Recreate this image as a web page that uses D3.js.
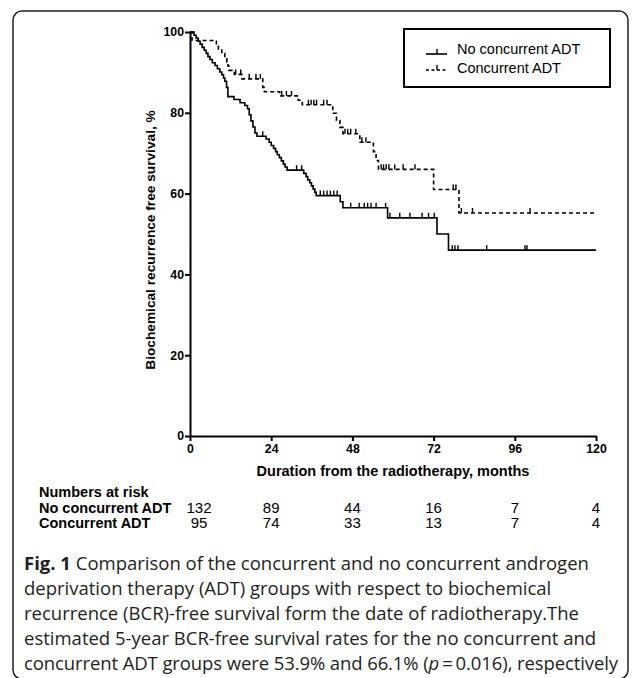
<!DOCTYPE html>
<html>
<head>
<meta charset="utf-8">
<script src="https://cdn.jsdelivr.net/npm/d3@7/dist/d3.min.js"></script>
<style>
  html, body { margin: 0; padding: 0; background: #fff; }
  svg { display: block; }
  .cap { font-family: "Open Sans", "Noto Sans", sans-serif; font-size: 18.5px; fill: #231f20; }
</style>
</head>
<body>
<script>
// ---------- data ----------
const groups = ["No concurrent ADT", "Concurrent ADT"];
const xTicks = [0, 24, 48, 72, 96, 120];
const yTicks = [0, 20, 40, 60, 80, 100];

// step points [month, survival %] after each drop
const noAdtSteps = [[0,100],[1.2,99.2],[1.8,98.5],[2.4,97.7],[3.0,97.0],[3.6,96.2],[4.2,95.5],[4.8,94.7],
  [5.3,93.9],[5.9,93.2],[6.6,92.4],[7.4,91.7],[8.1,90.9],[8.8,90.1],[9.4,89.4],[9.9,88.6],[10.3,87.8],
  [10.8,86.3],[11.2,84.0],[13.0,83.3],[14.8,82.5],[16.2,81.8],[17.0,81.0],[17.5,79.5],[18.0,78.0],
  [18.6,76.5],[19.2,75.0],[19.8,74.2],[22.5,73.5],[23.4,72.7],[24.0,71.9],[24.7,71.2],[25.3,70.4],
  [25.8,69.6],[26.4,68.9],[27.0,68.1],[27.6,67.3],[28.1,66.6],[28.7,65.8],[33.6,65.0],[34.3,64.2],
  [34.8,63.4],[35.4,62.7],[35.9,61.9],[36.4,61.1],[36.9,60.3],[37.3,59.5],[44.4,58.0],[45.2,56.5],
  [58.4,54.0],[73.0,50.0],[76.4,46.0]];
const noAdtCensored = [21.5,31.5,33.0,38.5,39.5,40.5,41.5,42.5,43.5,47.5,50.0,51.5,52.5,53.5,55.0,57.8,
  59.1,62.0,65.0,68.6,70.5,72.2,77.5,78.3,79.2,87.7,99.0,99.6];

const adtSteps = [[0,100],[0.6,97.9],[7.8,96.8],[8.4,95.8],[9.4,94.7],[10.3,93.7],[10.9,92.6],[11.2,91.6],
  [11.5,90.5],[13.1,89.5],[15.3,88.4],[21.5,86.3],[22.0,85.2],[26.5,84.2],[32.0,83.1],[33.2,82.0],
  [42.2,79.9],[43.3,78.1],[44.3,76.4],[45.2,74.8],[50.2,72.7],[54.2,70.4],[55.0,68.2],[55.7,66.0],
  [72.0,61.0],[79.5,55.2]];
const adtCensored = [13.5,15.0,17.5,19.5,20.8,27.1,28.5,30.0,35.0,35.8,36.6,37.4,39.5,40.5,45.8,46.6,
  47.5,49.0,50.8,52.0,56.5,57.2,58.0,58.8,60.5,63.0,66.5,77.8,78.6,80.2,83.5,100.5];

const riskNoAdt = [132, 89, 44, 16, 7, 4];
const riskAdt = [95, 74, 33, 13, 7, 4];

const yTitle = "Biochemical recurrence free survival, %";
const xTitle = "Duration from the radiotherapy, months";
const riskTitle = "Numbers at risk";
const captionBold = "Fig. 1";
const captionLines = [
  " Comparison of the concurrent and no concurrent androgen",
  "deprivation therapy (ADT) groups with respect to biochemical",
  "recurrence (BCR)-free survival form the date of radiotherapy.The",
  "estimated 5-year BCR-free survival rates for the no concurrent and",
  "concurrent ADT groups were 53.9% and 66.1% (",
];

// ---------- drawing ----------
const W = 634, H = 678;
const svg = d3.select("body").append("svg").attr("width", W).attr("height", H);

// frame
svg.append("rect").attr("x", 13).attr("y", 11).attr("width", 615).attr("height", 668)
  .attr("rx", 9).attr("fill", "none").attr("stroke", "#231f20").attr("stroke-width", 1.5);

const x = d3.scaleLinear().domain([0, 120]).range([190, 596]);
const y = d3.scaleLinear().domain([0, 100]).range([436, 32]);

const bold = "Liberation Sans, Arial, Helvetica, sans-serif";

// axes
const xAxis = svg.append("g").attr("transform", `translate(0,${y(0)})`)
  .call(d3.axisBottom(x).tickValues(xTicks).tickSize(5).tickPadding(3).tickSizeOuter(0));
const yAxis = svg.append("g").attr("transform", `translate(${x(0)},0)`)
  .call(d3.axisLeft(y).tickValues(yTicks).tickSize(5).tickPadding(1).tickSizeOuter(0));
[xAxis, yAxis].forEach(g => {
  g.select(".domain").attr("stroke", "#000").attr("stroke-width", 2);
  g.selectAll(".tick line").attr("stroke", "#000").attr("stroke-width", 2);
  g.selectAll(".tick text").attr("fill", "#000").attr("font-family", bold)
    .attr("font-weight", "bold").attr("font-size", 12.3);
});

// titles
svg.append("text").attr("x", (x(0) + x(120)) / 2).attr("y", 476).attr("text-anchor", "middle")
  .attr("font-family", bold).attr("font-weight", "bold").attr("font-size", 14.5).text(xTitle);
svg.append("text").attr("transform", `translate(155,${(y(0) + y(100)) / 2 + 6}) rotate(-90)`)
  .attr("text-anchor", "middle").attr("font-family", bold).attr("font-weight", "bold")
  .attr("font-size", 13.7).text(yTitle);

// curves
function survAt(steps, t) {
  let s = steps[0][1];
  for (const p of steps) { if (p[0] <= t) s = p[1]; }
  return s;
}
const line = d3.line().x(d => x(d[0])).y(d => y(d[1])).curve(d3.curveStepAfter);
const series = [
  { steps: noAdtSteps, cens: noAdtCensored, dash: null },
  { steps: adtSteps, cens: adtCensored, dash: "4,3" },
];
series.forEach(s => {
  const pts = s.steps.concat([[120, s.steps[s.steps.length - 1][1]]]);
  svg.append("path").datum(pts).attr("d", line).attr("fill", "none").attr("stroke", "#000")
    .attr("stroke-width", 1.6).attr("stroke-dasharray", s.dash);
  svg.append("g").selectAll("line").data(s.cens).join("line")
    .attr("x1", d => x(d)).attr("x2", d => x(d))
    .attr("y1", d => y(survAt(s.steps, d))).attr("y2", d => y(survAt(s.steps, d)) - 5)
    .attr("stroke", "#000").attr("stroke-width", 1.4);
});

// legend
const lg = svg.append("g");
lg.append("rect").attr("x", 404).attr("y", 29).attr("width", 206).attr("height", 58)
  .attr("fill", "#fff").attr("stroke", "#000").attr("stroke-width", 2);
groups.forEach((g, i) => {
  const ly = 54 + i * 16;
  lg.append("line").attr("x1", 426).attr("x2", 447).attr("y1", ly).attr("y2", ly)
    .attr("stroke", "#000").attr("stroke-width", 1.6).attr("stroke-dasharray", i ? "3,2.5" : null);
  lg.append("line").attr("x1", 437).attr("x2", 437).attr("y1", ly).attr("y2", ly - 5)
    .attr("stroke", "#000").attr("stroke-width", 1.4);
  lg.append("text").attr("x", 457).attr("y", 53.5 + i * 19.5).attr("font-family", bold)
    .attr("font-size", 14.5).attr("fill", "#000").text(g);
});

// numbers at risk
svg.append("text").attr("x", 39).attr("y", 497).attr("font-family", bold).attr("font-weight", "bold")
  .attr("font-size", 14.5).text(riskTitle);
[riskNoAdt, riskAdt].forEach((row, i) => {
  const ry = 512.5 + i * 15.5;
  svg.append("text").attr("x", 39).attr("y", ry).attr("font-family", bold).attr("font-weight", "bold")
    .attr("font-size", 14.5).text(groups[i]);
  svg.append("g").selectAll("text").data(row).join("text")
    .attr("x", (d, j) => x(xTicks[j]) + (j === 0 ? 9 : 0)).attr("y", ry)
    .attr("text-anchor", "middle").attr("font-family", bold).attr("font-size", 15).text(d => d);
});

// caption
const cap = svg.append("g");
captionLines.forEach((l, i) => {
  const t = cap.append("text").attr("class", "cap").attr("x", 24).attr("y", 570 + i * 25);
  if (i === 0) t.append("tspan").attr("font-weight", "bold").text(captionBold);
  t.append("tspan").text(l);
  if (i === captionLines.length - 1) {
    t.attr("letter-spacing", -0.1);
    t.append("tspan").attr("font-style", "italic").text("p");
    t.append("tspan").text("\u2009=\u20090.016), respectively");
  }
});
</script>
</body>
</html>
